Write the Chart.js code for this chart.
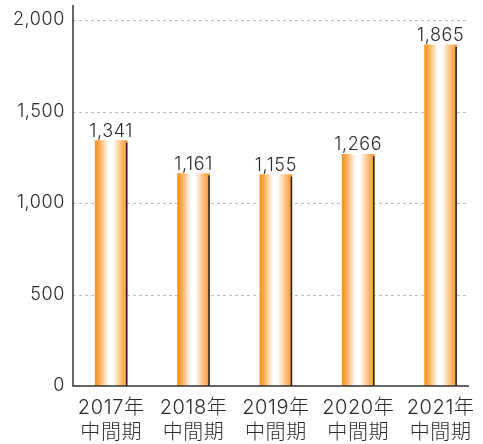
<!DOCTYPE html>
<html>
<head>
<meta charset="utf-8">
<script src="https://cdn.jsdelivr.net/npm/chart.js@4"></script>
<style>
  html, body { margin: 0; padding: 0; background: #fff; }
  #wrap { width: 483px; height: 444px; }
</style>
</head>
<body>
<div id="wrap"><canvas id="chart" width="483" height="444"></canvas></div>
<script>
// data
const years = ['2017年', '2018年', '2019年', '2020年', '2021年'];
const period = '中間期';
const values = [1341, 1161, 1155, 1266, 1865];
const yTicks = [0, 500, 1000, 1500, 2000];

const FONT = 'Inter, "Noto Sans CJK JP", sans-serif';
const TEXT = '#2a2a2a';
const BAR_W = 32;

function barGradient(context) {
    const chart = context.chart;
    if (!chart.chartArea || !chart.scales.x) return '#f7931e';
    const cx = chart.scales.x.getPixelForValue(context.dataIndex);
    const x0 = cx - BAR_W / 2;
    const g = chart.ctx.createLinearGradient(x0, 0, x0 + BAR_W, 0);
    g.addColorStop(0, '#f7911a');
    g.addColorStop(0.12, '#f9a84c');
    g.addColorStop(0.42, '#ffffff');
    g.addColorStop(0.55, '#ffffff');
    g.addColorStop(0.8, '#fbc080');
    g.addColorStop(1, '#f7982c');
    return g;
}

// axis lines, dashed grid, value labels, bar edge
const decorPlugin = {
    id: 'decor',
    beforeDraw(chart) {
        // slightly airier text, like the original
        chart.ctx.letterSpacing = '0.6px';
    },
    beforeDatasetsDraw(chart) {
        const ctx = chart.ctx;
        const y = chart.scales.y;
        const left = 73, right = 469;
        ctx.save();
        ctx.strokeStyle = '#bdbdbd';
        ctx.lineWidth = 1;
        ctx.setLineDash([3, 3]);
        yTicks.forEach(v => {
            if (v === 0) return;
            const py = Math.round(y.getPixelForValue(v)) + 0.5;
            ctx.beginPath();
            ctx.moveTo(left, py);
            ctx.lineTo(right, py);
            ctx.stroke();
        });
        ctx.restore();
    },
    afterDatasetsDraw(chart) {
        const ctx = chart.ctx;
        const y = chart.scales.y;
        const base = y.getPixelForValue(0);
        ctx.save();
        const meta = chart.getDatasetMeta(0);
        meta.data.forEach((bar, i) => {
            // dark right edge
            ctx.strokeStyle = '#222';
            ctx.lineWidth = 1.5;
            ctx.beginPath();
            ctx.moveTo(bar.x + BAR_W / 2 - 0.5, bar.y + 2);
            ctx.lineTo(bar.x + BAR_W / 2 - 0.5, base);
            ctx.stroke();
            // value label
            ctx.fillStyle = TEXT;
            ctx.font = '300 18px ' + FONT;
            ctx.textAlign = 'center';
            ctx.textBaseline = 'alphabetic';
            ctx.fillText(values[i].toLocaleString('en-US'), bar.x, bar.y - 4);
        });
        // axes
        ctx.strokeStyle = '#333';
        ctx.lineWidth = 1.5;
        ctx.beginPath();
        ctx.moveTo(73, 5);
        ctx.lineTo(73, base);
        ctx.lineTo(469, base);
        ctx.stroke();
        ctx.restore();
    }
};

new Chart(document.getElementById('chart'), {
    type: 'bar',
    data: {
        labels: years.map(y => [y, period]),
        datasets: [{
            data: values,
            backgroundColor: barGradient,
            barThickness: BAR_W,
            borderWidth: 0
        }]
    },
    options: {
        responsive: false,
        animation: false,
        layout: { padding: { top: 20, right: 0, left: 0, bottom: 0 } },
        plugins: {
            legend: { display: false },
            tooltip: { enabled: false }
        },
        scales: {
            x: {
                grid: { display: false, drawTicks: false },
                border: { display: false },
                ticks: {
                    color: TEXT,
                    font: { family: FONT, size: 20, weight: '300', lineHeight: 1.22 },
                    padding: 10,
                    maxRotation: 0,
                    autoSkip: false
                },
                afterFit(scale) { scale.height = 58; }
            },
            y: {
                min: 0,
                max: 2000,
                grid: { display: false, drawTicks: false },
                border: { display: false },
                ticks: {
                    stepSize: 500,
                    color: TEXT,
                    font: { family: FONT, size: 18, weight: '300' },
                    padding: 5,
                    callback: v => v.toLocaleString('en-US')
                },
                afterFit(scale) { scale.width = 70; }
            }
        }
    },
    plugins: [decorPlugin]
});
</script>
</body>
</html>
